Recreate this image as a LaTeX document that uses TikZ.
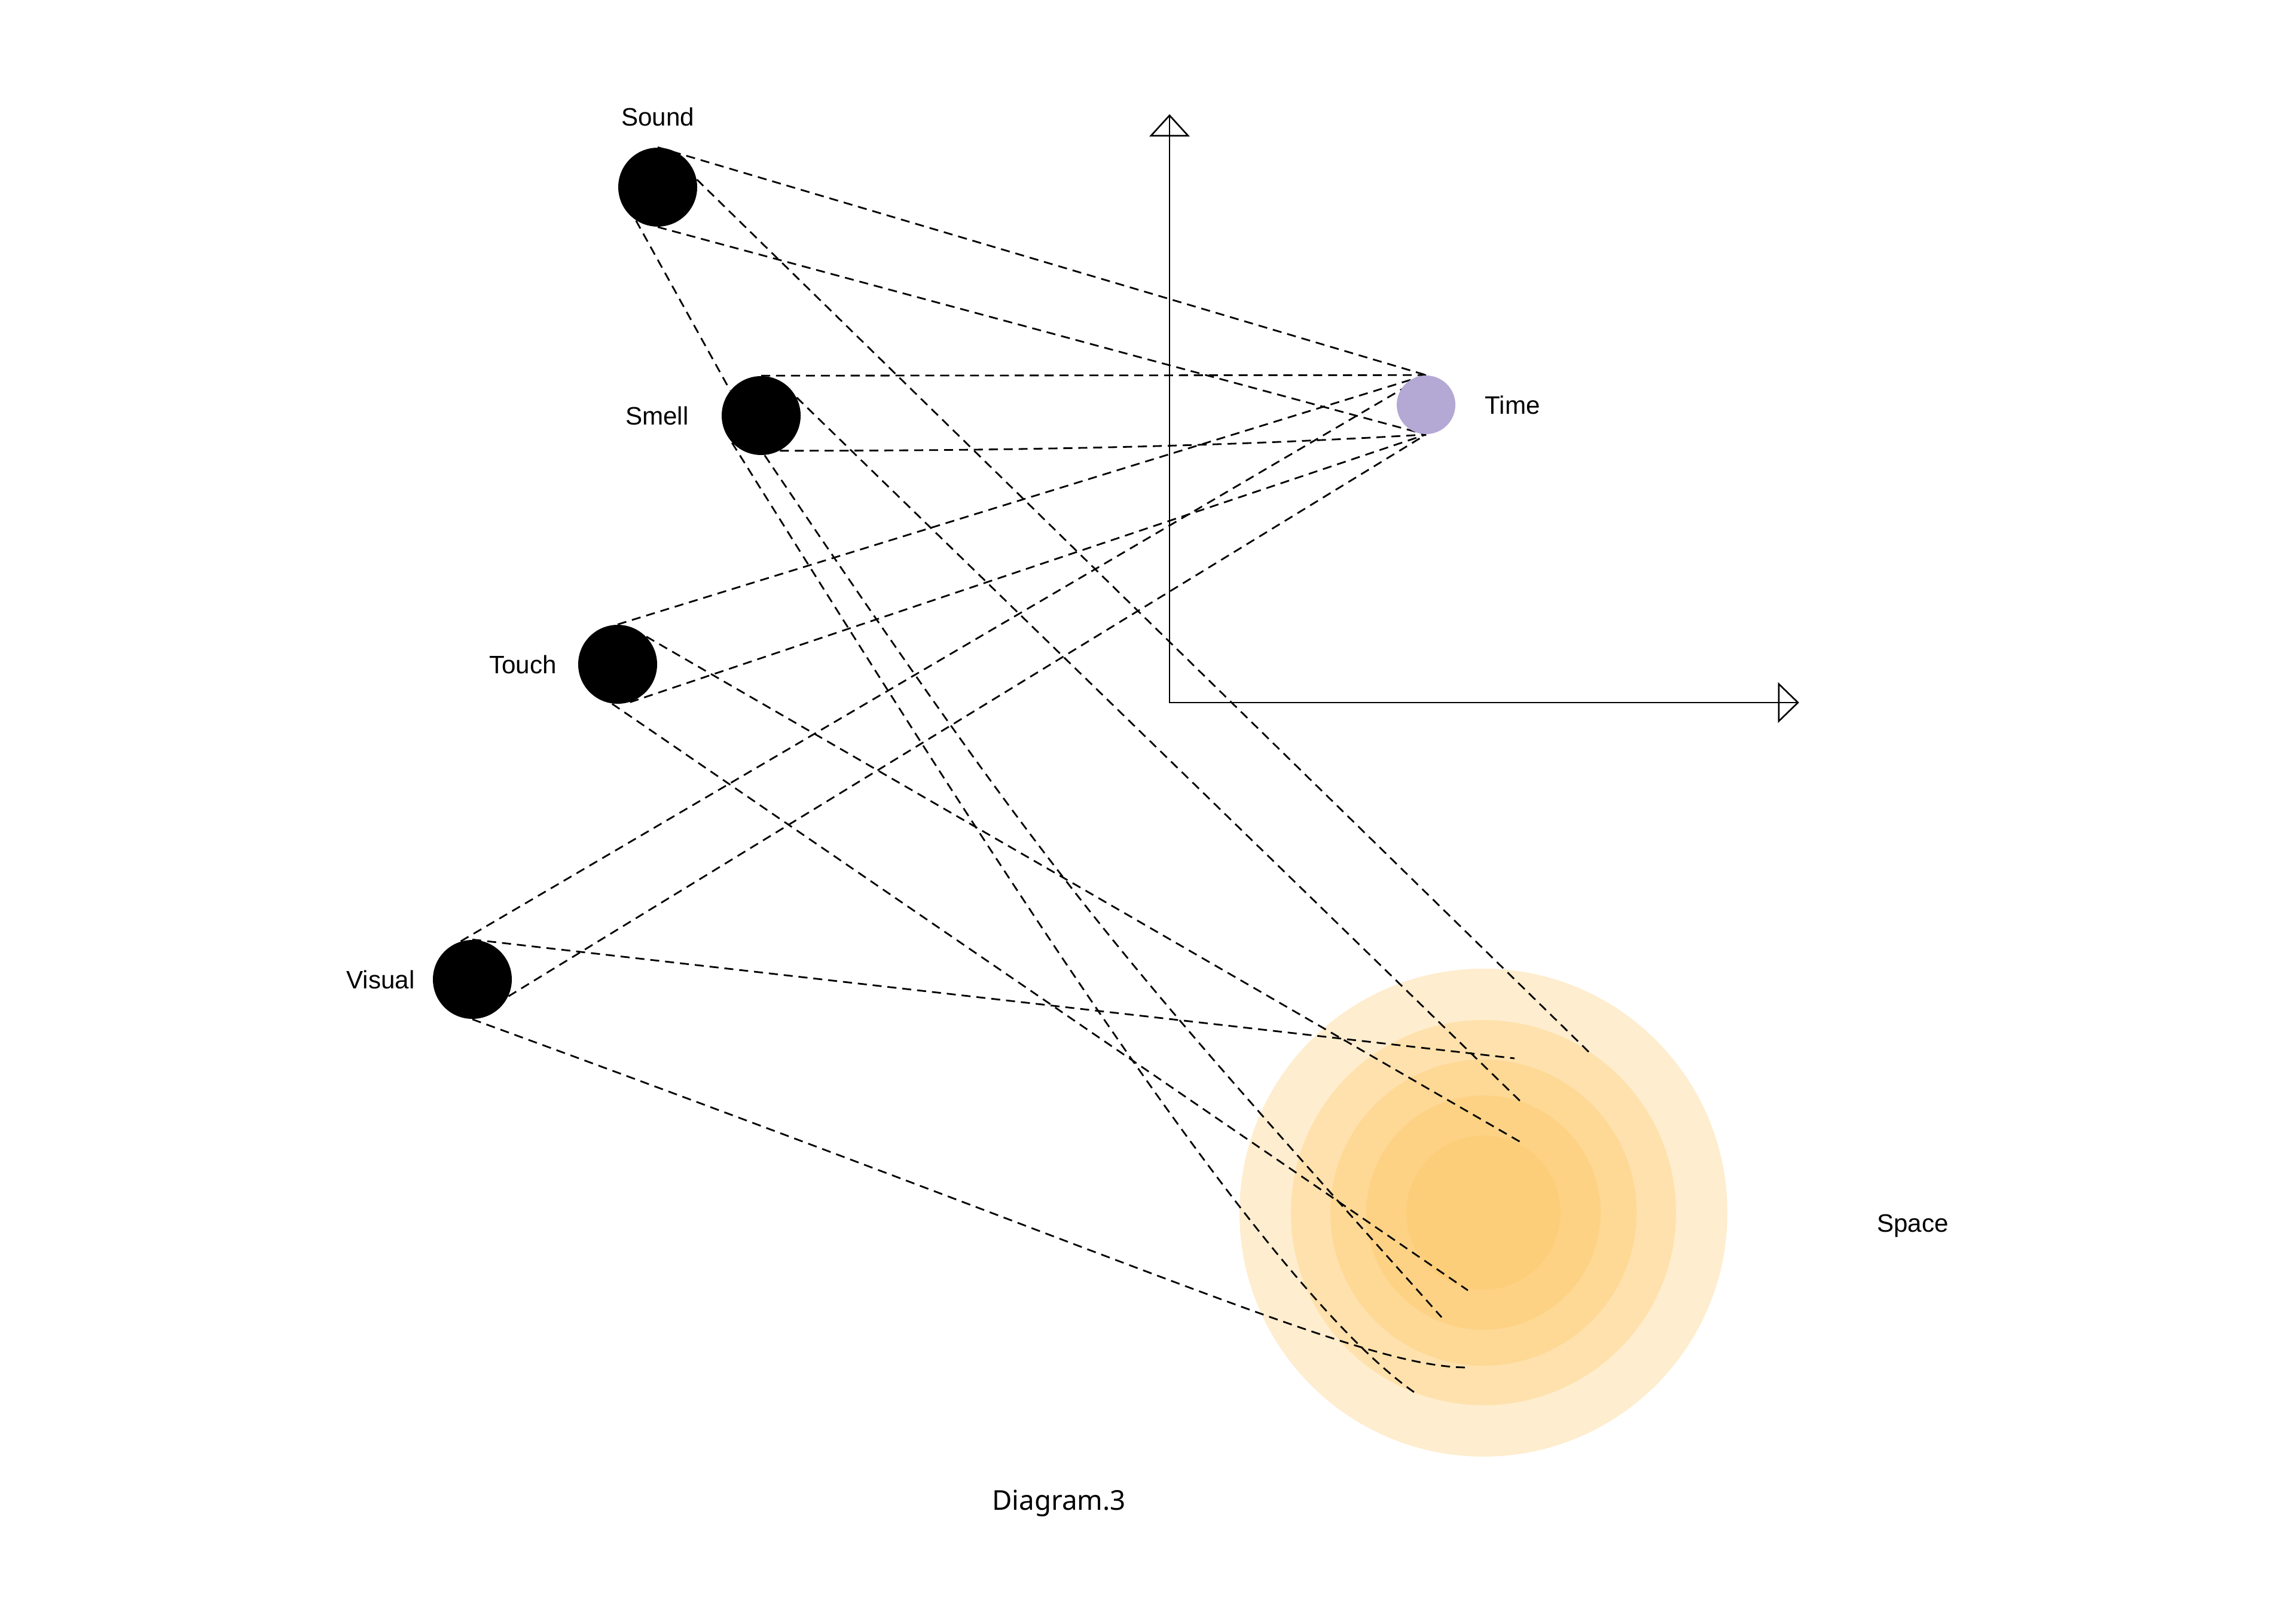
\documentclass[tikz,border=0pt]{standalone}
\usepackage{fontspec}
\setmainfont{Liberation Sans}
\newfontfamily\captionfont{Noto Sans}
\usetikzlibrary{positioning,backgrounds}

\definecolor{timeviolet}{RGB}{180,168,212}
\definecolor{spaceorange}{RGB}{253,196,94}

\tikzset{
	sense/.style={circle,fill=black,minimum size=1.32cm,inner sep=0pt},
	tag/.style={font=\fontsize{12}{14}\selectfont,inner sep=0pt},
	link/.style={line width=0.8pt,dash pattern=on 4.3pt off 2.8pt},
	axis/.style={line width=0.75pt},
	ring/.style={fill=spaceorange,fill opacity=0.3}
}

\begin{document}
\begin{tikzpicture}
	\useasboundingbox (0,0) rectangle (38.4,27.15);
	\node[sense] (sound) at (11.00,24.02) {};
	\node[sense] (smell) at (12.73,20.20) {};
	\node[sense] (touch) at (10.33,16.04) {};
	\node[sense] (visual) at (7.90,10.77) {};
	\node[circle,fill=timeviolet,minimum size=0.98cm,inner sep=0pt] (time) at (23.85,20.38) {};
	\coordinate (space) at (24.81,6.87);
	\node[tag,above=0.35cm of sound] (soundtag) {Sound};
	\node[tag,left=0.54cm of smell] (smelltag) {Smell};
	\node[tag,left=0.35cm of touch] (touchtag) {Touch};
	\node[tag,left=0.29cm of visual] (visualtag) {Visual};
	\node[tag,right=0.48cm of time] (timetag) {Time};
	\node[tag,anchor=base] (spacetag) at (31.99,6.55) {Space};
	\node[tag,font=\captionfont\fontsize{13}{15}\selectfont,anchor=base] (caption) at (17.71,1.90) {Diagram.3};
	%
	\coordinate (origin) at (19.56,15.40);
	\coordinate (ytip) at (19.56,25.22);
	\coordinate (xtip) at (30.07,15.40);
	\draw[axis] (ytip) -- (origin) -- (xtip);
	\draw[axis] (ytip) -- ++(-0.31,-0.34) -- ++(0.62,0) -- cycle;
	\draw[axis] (xtip) -- ++(-0.32,0.31) -- ++(0,-0.62) -- cycle;
	%
	\coordinate (sp1) at (26.59,9.54);
	\coordinate (sp2) at (25.33,9.45);
	\coordinate (sp3) at (25.43,8.73);
	\coordinate (sp4) at (25.43,8.05);
	\coordinate (sp5) at (24.55,5.57);
	\coordinate (sp6) at (24.11,5.12);
	\coordinate (sp7) at (24.55,4.28);
	\coordinate (sp8) at (23.66,3.86);
	\begin{pgfonlayer}{background}
		\foreach \r in {4.08,3.22,2.56,1.96,1.29}
			\fill[ring] (space) circle (\r);
		\draw[link] (sound.north) -- (time.north);
		\draw[link] (sound.south) -- (time.south);
		\draw[link] (sound.11) -- (sp1);
		\draw[link] (sound.237) -- (smell.141);
		\draw[link] (smell.north) -- (time.north);
		\draw[link] (smell.-62) .. controls +(5,0) and +(-2.5,-0.15) .. (time.south);
		\draw[link] (smell.27) -- (sp3);
		\draw[link] (smell.-85) .. controls +(5,-7.4) and +(-5.5,6.17) .. (sp6);
		\draw[link] (smell.-137) .. controls +(4.5,-7.2) and +(-2.5,1.75) .. (sp8);
		\draw[link] (touch.north) -- (time.north);
		\draw[link] (touch.-72) -- (time.south);
		\draw[link] (touch.44) -- (sp4);
		\draw[link] (touch.-98) -- (sp5);
		\draw[link] (visual.107) -- (time.north);
		\draw[link] (visual.-25) -- (time.south);
		\draw[link] (visual.north) -- (sp2);
		\draw[link] (visual.south) .. controls +(11.6,-4.23) and +(-1.74,0) .. (sp7);
	\end{pgfonlayer}
\end{tikzpicture}
\end{document}
